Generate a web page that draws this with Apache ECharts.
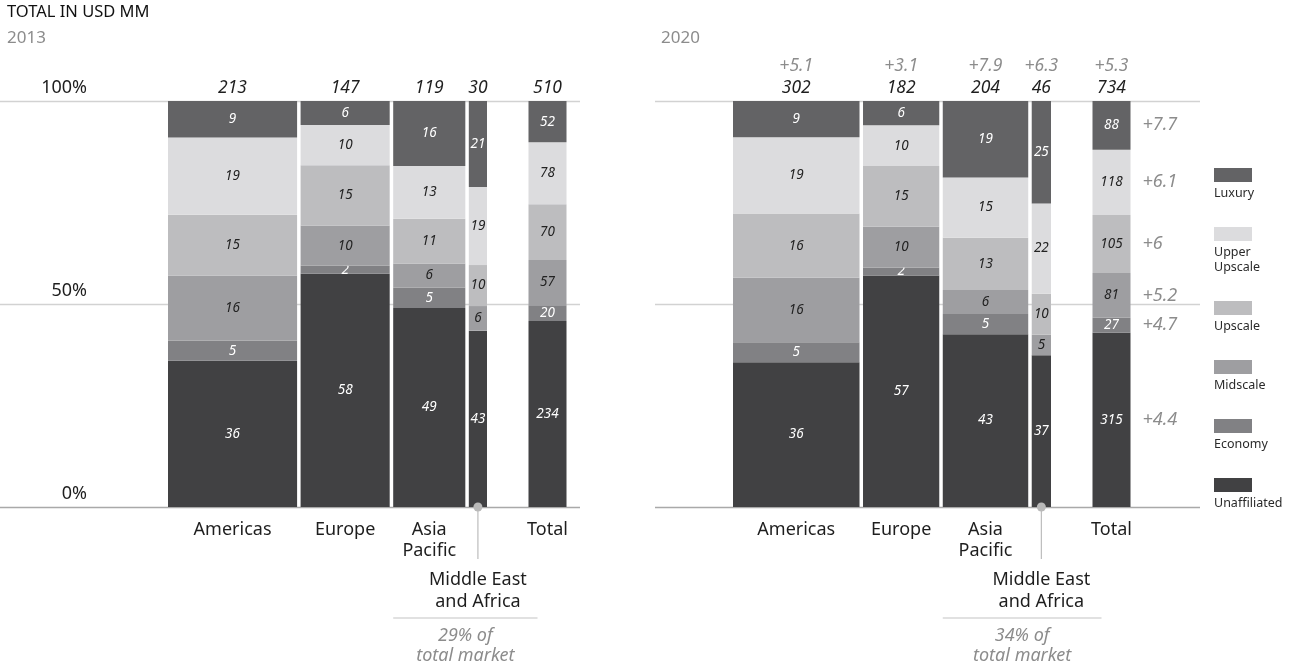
<!DOCTYPE html>
<html>
<head>
<meta charset="utf-8">
<script src="https://cdn.jsdelivr.net/npm/echarts@6/dist/echarts.min.js"></script>
<style>
  html, body { margin: 0; padding: 0; background: #fff; }
  #chart { width: 1298px; height: 665px; }
</style>
</head>
<body>
<div id="chart"></div>
<script>
// Hotel segments, ordered from top of each stack to bottom
const segmentNames = ['Luxury', 'Upper\nUpscale', 'Upscale', 'Midscale', 'Economy', 'Unaffiliated'];
const regionNames = ['Americas', 'Europe', 'Asia\nPacific', 'Middle East\nand Africa'];
const totalName = 'Total';
const yTickLabels = ['0%', '50%', '100%'];

// 2013: market size per region (USD MM) and segment mix (% of region)
const regionSize2013 = [213, 147, 119, 30];
const marketTotal2013 = 510;
const luxury2013 = [9, 6, 16, 21];
const upperUpscale2013 = [19, 10, 13, 19];
const upscale2013 = [15, 15, 11, 10];
const midscale2013 = [16, 10, 6, 6];
const economy2013 = [5, 2, 5, 0];
const unaffiliated2013 = [36, 58, 49, 43];
const totalMix2013 = [52, 78, 70, 57, 20, 234];
const emergingShare2013 = '29% of\ntotal market';

// 2020: market size per region (USD MM), segment mix and growth (CAGR %)
const regionSize2020 = [302, 182, 204, 46];
const marketTotal2020 = 734;
const luxury2020 = [9, 6, 19, 25];
const upperUpscale2020 = [19, 10, 15, 22];
const upscale2020 = [16, 15, 13, 10];
const midscale2020 = [16, 10, 6, 5];
const economy2020 = [5, 2, 5, 0];
const unaffiliated2020 = [36, 57, 43, 37];
const totalMix2020 = [88, 118, 105, 81, 27, 315];
const regionGrowth2020 = ['+5.1', '+3.1', '+7.9', '+6.3'];
const totalGrowth2020 = '+5.3';
const segmentGrowth2020 = ['+7.7', '+6.1', '+6', '+5.2', '+4.7', '+4.4'];
const emergingShare2020 = '34% of\ntotal market';

// Styling
const segmentColors = ['#636365', '#dcdcde', '#bdbdbf', '#9e9ea1', '#818184', '#414143'];
const segmentTextColors = ['#ffffff', '#222222', '#222222', '#222222', '#ffffff', '#ffffff'];
const FONT = '"Noto Sans", "Open Sans", sans-serif';
const INK = '#1e1e1e';
const MUTED = '#8c8c8c';
const GAP = 3.5;           // white gap between region columns (px)
const TOTAL_OFFSET = 41.5; // space between last region and the total column (px)
const TOTAL_WIDTH = 38;    // total column width (px)

function columnsOf(rows) {
  return rows[0].map((_, b) => rows.map(r => r[b]));
}

const years = [
  {
    label: '2013',
    sizes: regionSize2013,
    total: marketTotal2013,
    mix: columnsOf([luxury2013, upperUpscale2013, upscale2013, midscale2013, economy2013, unaffiliated2013]).concat([totalMix2013]),
    growth: null, totalGrowth: null, segGrowth: null,
    share: emergingShare2013,
    guideX: [0, 580]
  },
  {
    label: '2020',
    sizes: regionSize2020,
    total: marketTotal2020,
    mix: columnsOf([luxury2020, upperUpscale2020, upscale2020, midscale2020, economy2020, unaffiliated2020]).concat([totalMix2020]),
    growth: regionGrowth2020, totalGrowth: totalGrowth2020, segGrowth: segmentGrowth2020,
    share: emergingShare2020,
    guideX: [655, 1200]
  }
];

function sum(a) { return a.reduce((s, v) => s + v, 0); }

// Horizontal extent of column b (regions are sized by market value)
function columnX(Y, b, api) {
  const n = Y.sizes.length;
  if (b < n) {
    let cum = 0;
    for (let i = 0; i < b; i++) cum += Y.sizes[i];
    const x0 = api.coord([cum, 0])[0] + b * GAP;
    const x1 = api.coord([cum + Y.sizes[b], 0])[0] + b * GAP;
    return [x0, x1];
  }
  const end = api.coord([sum(Y.sizes), 0])[0] + (n - 1) * GAP;
  return [end + TOTAL_OFFSET, end + TOTAL_OFFSET + TOTAL_WIDTH];
}

function txt(x, y, text, opt) {
  return {
    type: 'text',
    silent: true,
    style: Object.assign({
      x: x, y: y, text: text,
      fill: INK,
      font: '18px ' + FONT,
      align: 'center',
      verticalAlign: 'middle'
    }, opt || {})
  };
}

function makeColumnRenderer(Y) {
  return function (params, api) {
    const b = api.value(0);
    const n = Y.sizes.length;
    const isTotal = b === n;
    const mix = Y.mix[b];
    const mixSum = sum(mix);
    const [x0, x1] = columnX(Y, b, api);
    const xc = (x0 + x1) / 2;
    const yBase = api.coord([0, 0])[1];
    const yTop = api.coord([0, 100])[1];
    const children = [];

    // stacked segments, bottom (Unaffiliated) to top (Luxury)
    let acc = 0;
    for (let s = mix.length - 1; s >= 0; s--) {
      const v = mix[s];
      if (!v) continue;
      const yLow = api.coord([0, acc / mixSum * 100])[1];
      acc += v;
      const yHigh = api.coord([0, acc / mixSum * 100])[1];
      children.push({
        type: 'rect',
        shape: { x: x0, y: yHigh, width: x1 - x0, height: yLow - yHigh },
        style: { fill: segmentColors[s] }
      });
      const yMid = (yLow + yHigh) / 2;
      children.push(txt(xc, yMid, String(v), {
        fill: segmentTextColors[s],
        font: 'italic 13.5px ' + FONT
      }));
      if (isTotal && Y.segGrowth) {
        children.push(txt(x1 + 12, yMid, Y.segGrowth[s], {
          fill: MUTED, align: 'left', font: 'italic 18px ' + FONT
        }));
      }
    }

    // market size above the column, growth above that
    children.push(txt(xc, yTop - 13, String(isTotal ? Y.total : Y.sizes[b]), {
      font: 'italic 17.5px ' + FONT
    }));
    if (Y.growth) {
      children.push(txt(xc, yTop - 35, isTotal ? Y.totalGrowth : Y.growth[b], {
        fill: MUTED, font: 'italic 17.5px ' + FONT
      }));
    }

    // category labels under the baseline
    if (b === n - 1) {
      // narrow column: callout line down to its label
      children.push({
        type: 'line', silent: true,
        shape: { x1: xc, y1: yBase, x2: xc, y2: yBase + 52 },
        style: { stroke: '#bdbdbd', lineWidth: 1.2 }
      });
      children.push({
        type: 'circle', silent: true,
        shape: { cx: xc, cy: yBase, r: 4.5 },
        style: { fill: '#b9b9b9' }
      });
      children.push(txt(xc, yBase + 62, regionNames[b], {
        verticalAlign: 'top', lineHeight: 22
      }));
      // bracket spanning the emerging regions
      const asia = columnX(Y, n - 2, api);
      const tot = columnX(Y, n, api);
      const bx0 = asia[0], bx1 = tot[0] + 9;
      children.push({
        type: 'line', silent: true,
        shape: { x1: bx0, y1: yBase + 111, x2: bx1, y2: yBase + 111 },
        style: { stroke: '#c4c4c4', lineWidth: 1.2 }
      });
      children.push(txt((bx0 + bx1) / 2, yBase + 119, Y.share, {
        verticalAlign: 'top', lineHeight: 20, fill: MUTED, font: 'italic 18px ' + FONT
      }));
    } else {
      children.push(txt(xc, yBase + 12, isTotal ? totalName : regionNames[b], {
        verticalAlign: 'top', lineHeight: 21
      }));
    }

    return { type: 'group', children: children };
  };
}

function makeGuideRenderer(Y) {
  return function (params, api) {
    const v = api.value(1);
    const y = Math.round(api.coord([0, v])[1]) + 0.5;
    return {
      type: 'line', silent: true,
      shape: { x1: Y.guideX[0], y1: y, x2: Y.guideX[1], y2: y },
      style: { stroke: v === 0 ? '#a9a9a9' : '#d2d2d2', lineWidth: 1.4 }
    };
  };
}

const gridBoxes = [
  { left: 168, top: 101, width: 319 - 3 * GAP, height: 406 },
  { left: 733, top: 101, width: 318 - 3 * GAP, height: 406 }
];

const series = [];
years.forEach((Y, i) => {
  series.push({
    type: 'custom', name: 'guides' + Y.label,
    xAxisIndex: i, yAxisIndex: i, z: 1,
    renderItem: makeGuideRenderer(Y),
    data: [[0, 0], [0, 50], [0, 100]]
  });
  series.push({
    type: 'custom', name: 'market' + Y.label,
    xAxisIndex: i, yAxisIndex: i, z: 2,
    renderItem: makeColumnRenderer(Y),
    data: Y.mix.map((_, b) => [b, 0])
  });
});

// Legend: swatch with the name underneath
const legendItems = [];
let cursor = 168;
segmentNames.forEach((name, s) => {
  legendItems.push({
    type: 'rect', left: 1214, top: cursor,
    shape: { width: 38, height: 14 },
    style: { fill: segmentColors[s] }
  });
  legendItems.push({
    type: 'text', left: 1214, top: cursor + 18,
    style: { text: name, fill: '#2a2a2a', font: '12.5px ' + FONT, lineHeight: 15 }
  });
  cursor += 59 + (name.split('\n').length - 1) * 15;
});

const chart = echarts.init(document.getElementById('chart'), null, { renderer: 'canvas' });
chart.setOption({
  animation: false,
  backgroundColor: '#ffffff',
  grid: gridBoxes,
  xAxis: years.map((Y, i) => ({
    type: 'value', gridIndex: i, min: 0, max: sum(Y.sizes), show: false
  })),
  yAxis: years.map((Y, i) => ({
    type: 'value', gridIndex: i, min: 0, max: 100, interval: 50,
    axisLine: { show: false }, axisTick: { show: false }, splitLine: { show: false },
    axisLabel: {
      show: i === 0,
      margin: 81,
      verticalAlign: 'bottom',
      padding: [0, 0, 4, 0],
      fontSize: 18,
      fontFamily: FONT,
      color: INK,
      formatter: v => yTickLabels[v / 50]
    }
  })),
  graphic: [
    { type: 'text', left: 7, top: 4, style: { text: 'TOTAL IN USD MM', fill: '#111', font: '16.5px ' + FONT } },
    { type: 'text', left: 7, top: 30, style: { text: years[0].label, fill: MUTED, font: '17px ' + FONT } },
    { type: 'text', left: 661, top: 30, style: { text: years[1].label, fill: MUTED, font: '17px ' + FONT } }
  ].concat(legendItems),
  series: series
});
</script>
</body>
</html>
